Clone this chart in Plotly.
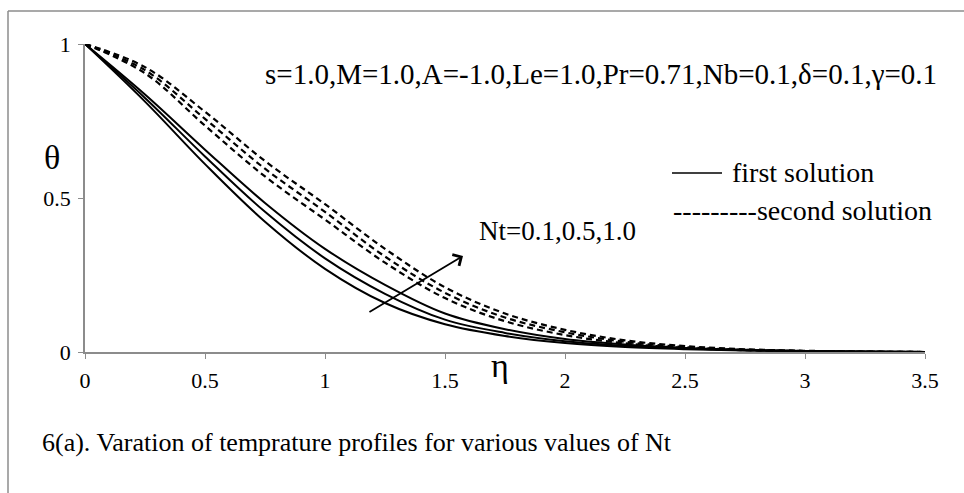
import plotly.graph_objects as go

# similarity variable
eta = [0.0, 0.25, 0.5, 0.75, 1.0, 1.25, 1.5, 1.75, 2.0, 2.25, 2.5, 2.75, 3.0, 3.25, 3.5]

# first solution, Nt = 0.1, 0.5, 1.0
first_nt01 = [1.0, 0.813, 0.610, 0.423, 0.270, 0.159, 0.090, 0.052, 0.029, 0.016, 0.009, 0.005, 0.0025, 0.001, 0.0]
first_nt05 = [1.0, 0.825, 0.635, 0.455, 0.304, 0.189, 0.105, 0.062, 0.035, 0.020, 0.011, 0.006, 0.003, 0.0012, 0.0]
first_nt10 = [1.0, 0.836, 0.657, 0.484, 0.335, 0.218, 0.125, 0.074, 0.042, 0.024, 0.013, 0.007, 0.0035, 0.0015, 0.0]

# second solution, Nt = 0.1, 0.5, 1.0
second_nt01 = [1.0, 0.905, 0.735, 0.570, 0.430, 0.290, 0.175, 0.100, 0.055, 0.028, 0.013, 0.006, 0.0025, 0.001, 0.0]
second_nt05 = [1.0, 0.915, 0.757, 0.595, 0.455, 0.310, 0.192, 0.112, 0.064, 0.033, 0.016, 0.007, 0.003, 0.0012, 0.0]
second_nt10 = [1.0, 0.925, 0.780, 0.620, 0.480, 0.335, 0.210, 0.125, 0.072, 0.038, 0.019, 0.009, 0.004, 0.0015, 0.0]

x_ticks = [0, 0.5, 1, 1.5, 2, 2.5, 3, 3.5]
x_tick_text = ["0", "0.5", "1", "1.5", "2", "2.5", "3", "3.5"]
y_ticks = [0, 0.5, 1]
y_tick_text = ["0", "0.5", "1"]

SERIF = "'Liberation Serif', 'Times New Roman', Times, serif"
AXIS_GREY = "#8c8c8c"

fig = go.Figure()

for ys in (first_nt01, first_nt05, first_nt10):
    fig.add_trace(go.Scatter(
        x=eta, y=ys, mode="lines", line=dict(color="black", width=2, shape="spline"),
        showlegend=False, hoverinfo="skip"))

for ys in (second_nt01, second_nt05, second_nt10):
    fig.add_trace(go.Scatter(
        x=eta, y=ys, mode="lines",
        line=dict(color="black", width=2.2, dash="6px,4px", shape="spline"),
        showlegend=False, hoverinfo="skip"))

# pixel geometry of the plotting area
L, R, T, B = 85, 39, 44, 141
W, H = 964, 493
pw, ph = W - L - R, H - T - B


def px(x):
    return (x - L) / pw


def py(y):
    return (H - B - y) / ph


fig.update_layout(
    width=W, height=H,
    margin=dict(l=L, r=R, t=T, b=B),
    paper_bgcolor="white", plot_bgcolor="white",
    font=dict(family=SERIF, color="black", size=22),
    xaxis=dict(range=[0, 3.5], tickvals=x_ticks, ticktext=x_tick_text,
               showgrid=False, zeroline=False, showline=True, linecolor=AXIS_GREY,
               linewidth=1.5, ticks="outside", ticklen=5, tickcolor=AXIS_GREY,
               ticklabelstandoff=3, tickfont=dict(family=SERIF, size=22)),
    yaxis=dict(range=[0, 1], tickvals=y_ticks, ticktext=y_tick_text,
               showgrid=False, zeroline=False, showline=True, linecolor=AXIS_GREY,
               linewidth=1.5, ticks="outside", ticklen=5, tickcolor=AXIS_GREY,
               ticklabelstandoff=3, tickfont=dict(family=SERIF, size=22)),
    shapes=[
        # frame around the figure
        dict(type="line", xref="paper", yref="paper", x0=px(8), x1=px(W + 5), y0=py(11), y1=py(11),
             line=dict(color=AXIS_GREY, width=1.5)),
        dict(type="line", xref="paper", yref="paper", x0=px(8), x1=px(8), y0=py(11), y1=py(H + 5),
             line=dict(color=AXIS_GREY, width=1.5)),
        # legend sample for the first solution
        dict(type="line", xref="paper", yref="paper", x0=px(672), x1=px(722), y0=py(173), y1=py(173),
             line=dict(color="black", width=1.5)),
    ],
    annotations=[
        dict(text="θ", xref="paper", yref="paper", x=px(42), y=py(157), showarrow=False,
             font=dict(family=SERIF, size=34)),
        dict(text="η", xref="paper", yref="paper", x=px(500), y=py(386), showarrow=False,
             font=dict(family=SERIF, size=34)),
        dict(text="s=1.0,M=1.0,A=-1.0,Le=1.0,Pr=0.71,Nb=0.1,δ=0.1,γ=0.1", xref="paper", yref="paper",
             x=px(263), y=py(56), xanchor="left", showarrow=False, font=dict(family=SERIF, size=29)),
        dict(text="first solution", xref="paper", yref="paper", x=px(730), y=py(172),
             xanchor="left", showarrow=False, font=dict(family=SERIF, size=28)),
        dict(text="---------second solution", xref="paper", yref="paper", x=px(671), y=py(210),
             xanchor="left", showarrow=False, font=dict(family=SERIF, size=28)),
        dict(text="Nt=0.1,0.5,1.0", xref="paper", yref="paper", x=px(477), y=py(231),
             xanchor="left", showarrow=False, font=dict(family=SERIF, size=27)),
        dict(text="6(a). Varation of temprature profiles for various values of Nt", xref="paper",
             yref="paper", x=px(40), y=py(459), xanchor="left", showarrow=False,
             font=dict(family=SERIF, size=26)),
        # arrow showing increasing Nt
        dict(x=1.575, y=0.312, ax=1.179, ay=0.127, xref="x", yref="y", axref="x", ayref="y",
             text="", showarrow=True, arrowhead=4, arrowsize=1.4, arrowwidth=1.8, arrowcolor="black"),
    ],
)

fig.write_html("out.html")
